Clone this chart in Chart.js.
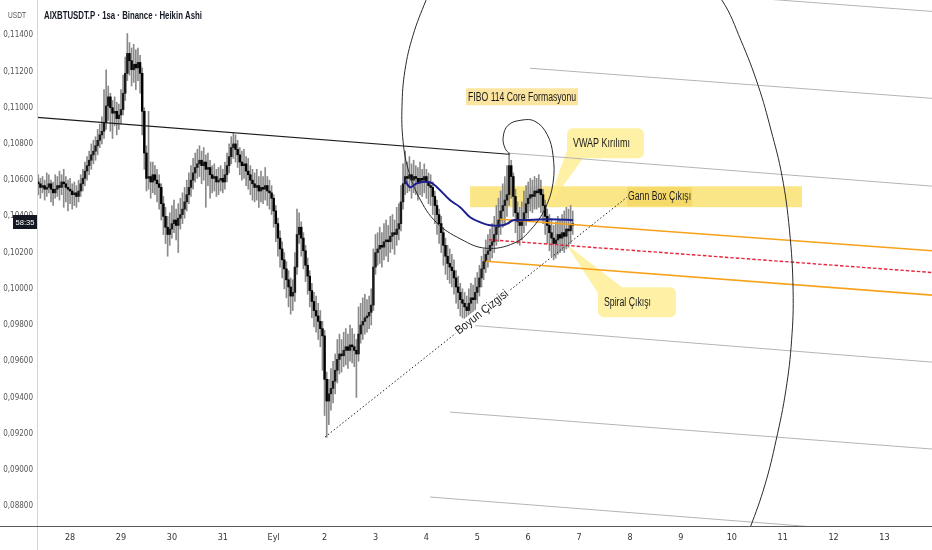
<!DOCTYPE html>
<html>
<head>
<meta charset="utf-8">
<script src="https://cdn.jsdelivr.net/npm/chart.js@4.4.1/dist/chart.umd.min.js"></script>
<style>
  html, body { margin:0; padding:0; background:#fff; }
  canvas { display:block; }
</style>
</head>
<body>
<canvas id="chart" width="932" height="550"></canvas>
<script>
// hours are counted from 28 Aug 00:00, one Heikin Ashi candle per hour
const FIRST_HOUR = -15;

const haOpen = [
  .1059,.1058,.1056,.1057,.1055,.1056,.1058,.1055,.1053,.1055,.1057,.1056,.1059,.1058,.1056,
  .1055,.1054,.1052,.1053,.1051,.1054,.1058,.1061,.1065,.1068,
  .1071,.1074,.1076,.1079,.1082,.1085,.1087,.1092,.1101,.1106,
  .1100,.1097,.1098,.1094,.1096,.1099,.1108,.1119,.1130,.1126,
  .1121,.1124,.1122,.1125,.1119,.1098,.1075,.1061,.1062,.1059,
  .1063,.1060,.1058,.1056,.1047,.1040,.1034,.1030,.1033,.1036,
  .1038,.1035,.1039,.1041,.1044,.1048,.1052,.1056,.1060,.1064,
  .1067,.1069,.1071,.1068,.1070,.1066,.1067,.1063,.1061,.1062,
  .1059,.1060,.1061,.1059,.1063,.1068,.1073,.1078,.1080,.1077,
  .1074,.1070,.1068,.1069,.1065,.1063,.1060,.1058,.1056,.1057,
  .1054,.1056,.1055,.1057,.1054,.1053,.1050,.1043,.1036,.1028,
  .1022,.1016,.1011,.1005,.1001,.0996,.0998,.1012,.1030,.1034,
  .1028,.1021,.1013,.1007,.0999,.0993,.0988,.0985,.0982,.0978,
  .0974,.0950,.0938,.0942,.0945,.0949,.0955,.0961,.0964,.0963,
  .0966,.0968,.0966,.0969,.0968,.0966,.0964,.0975,.0980,.0982,
  .0984,.0985,.0987,.0991,.1012,.1020,.1022,.1024,.1023,.1026,
  .1027,.1026,.1029,.1031,.1030,.1033,.1036,.1048,.1058,.1062,
  .1061,.1063,.1060,.1062,.1061,.1059,.1061,.1060,.1062,.1059,
  .1057,.1056,.1051,.1046,.1041,.1036,.1031,.1024,.1018,.1014,
  .1012,.1010,.1006,.1001,.0998,.0994,.0992,.0990,.0988,.0992,
  .0995,.0994,.0998,.1001,.1006,.1011,.1015,.1019,.1021,.1024,
  .1026,.1030,.1034,.1038,.1043,.1046,.1049,.1052,.1068,.1062,
  .1051,.1042,.1037,.1035,.1038,.1042,.1047,.1050,.1052,.1051,
  .1054,.1053,.1055,.1052,.1046,.1040,.1035,.1031,.1028,.1025,
  .1027,.1030,.1028,.1031,.1029,.1033,.1032,.1035
];
const haClose = [
  .1058,.1056,.1057,.1055,.1056,.1058,.1055,.1053,.1055,.1057,.1056,.1059,.1058,.1056,.1055,
  .1054,.1052,.1053,.1051,.1054,.1058,.1061,.1065,.1068,.1071,
  .1074,.1076,.1079,.1082,.1085,.1087,.1092,.1101,.1106,.1100,
  .1097,.1098,.1094,.1096,.1099,.1108,.1119,.1130,.1126,.1121,
  .1124,.1122,.1125,.1119,.1098,.1075,.1061,.1062,.1059,.1063,
  .1060,.1058,.1056,.1047,.1040,.1034,.1030,.1033,.1036,.1038,
  .1035,.1039,.1041,.1044,.1048,.1052,.1056,.1060,.1064,.1067,
  .1069,.1071,.1068,.1070,.1066,.1067,.1063,.1061,.1062,.1059,
  .1060,.1061,.1059,.1063,.1068,.1073,.1078,.1080,.1077,.1074,
  .1070,.1068,.1069,.1065,.1063,.1060,.1058,.1056,.1057,.1054,
  .1056,.1055,.1057,.1054,.1053,.1050,.1043,.1036,.1028,.1022,
  .1016,.1011,.1005,.1001,.0996,.0998,.1012,.1030,.1034,.1028,
  .1021,.1013,.1007,.0999,.0993,.0988,.0985,.0982,.0978,.0974,
  .0950,.0938,.0942,.0945,.0949,.0955,.0961,.0964,.0963,.0966,
  .0968,.0966,.0969,.0968,.0966,.0964,.0975,.0980,.0982,.0984,
  .0985,.0987,.0991,.1012,.1020,.1022,.1024,.1023,.1026,.1027,
  .1026,.1029,.1031,.1030,.1033,.1036,.1048,.1058,.1062,.1061,
  .1063,.1060,.1062,.1061,.1059,.1061,.1060,.1062,.1059,.1057,
  .1056,.1051,.1046,.1041,.1036,.1031,.1024,.1018,.1014,.1012,
  .1010,.1006,.1001,.0998,.0994,.0992,.0990,.0988,.0992,.0995,
  .0994,.0998,.1001,.1006,.1011,.1015,.1019,.1021,.1024,.1026,
  .1030,.1034,.1038,.1043,.1046,.1049,.1052,.1068,.1062,.1051,
  .1042,.1037,.1035,.1038,.1042,.1047,.1050,.1052,.1051,.1054,
  .1053,.1055,.1052,.1046,.1040,.1035,.1031,.1028,.1025,.1027,
  .1030,.1028,.1031,.1029,.1033,.1032,.1035,.1036
];
const haHigh = [
  .1063,.1061,.1062,.1060,.1064,.1063,.1060,.1059,.1063,.1062,.1065,.1063,.1066,.1062,.1060,
  .1061,.1058,.1059,.1057,.1060,.1063,.1066,.1070,.1073,.1076,
  .1080,.1082,.1084,.1088,.1091,.1095,.1110,.1121,.1112,.1108,
  .1104,.1106,.1103,.1102,.1110,.1118,.1128,.1141,.1136,.1133,
  .1135,.1132,.1133,.1129,.1122,.1100,.1079,.1098,.1070,.1070,
  .1068,.1066,.1063,.1058,.1051,.1045,.1040,.1042,.1046,.1049,
  .1044,.1047,.1050,.1053,.1056,.1060,.1064,.1068,.1072,.1075,
  .1077,.1079,.1076,.1078,.1074,.1075,.1071,.1068,.1069,.1066,
  .1067,.1068,.1066,.1070,.1075,.1080,.1084,.1086,.1085,.1082,
  .1078,.1076,.1077,.1073,.1072,.1068,.1066,.1064,.1066,.1062,
  .1065,.1062,.1067,.1062,.1060,.1057,.1052,.1046,.1039,.1032,
  .1026,.1020,.1015,.1010,.1006,.1005,.1020,.1044,.1042,.1037,
  .1031,.1024,.1017,.1010,.1003,.0998,.0996,.0992,.0988,.0982,
  .0977,.0954,.0950,.0956,.0960,.0964,.0972,.0975,.0972,.0976,
  .0978,.0975,.0980,.0978,.0975,.0972,.0990,.0992,.0995,.0997,
  .0994,.0996,.1000,.1022,.1030,.1031,.1034,.1031,.1036,.1038,
  .1035,.1040,.1041,.1038,.1045,.1047,.1057,.1069,.1076,.1070,
  .1073,.1069,.1071,.1068,.1067,.1070,.1066,.1069,.1066,.1064,
  .1063,.1059,.1054,.1049,.1044,.1040,.1034,.1028,.1024,.1022,
  .1019,.1016,.1010,.1007,.1003,.1000,.0998,.0996,.1000,.1003,
  .1002,.1006,.1009,.1013,.1018,.1022,.1027,.1030,.1033,.1036,
  .1040,.1046,.1050,.1054,.1058,.1062,.1068,.1075,.1071,.1064,
  .1055,.1048,.1045,.1048,.1054,.1057,.1059,.1061,.1060,.1062,
  .1061,.1063,.1060,.1055,.1049,.1044,.1041,.1038,.1035,.1037,
  .1040,.1038,.1041,.1043,.1045,.1044,.1046,.1043
];
const haLow = [
  .1052,.1050,.1053,.1049,.1051,.1053,.1048,.1046,.1050,.1051,.1049,.1052,.1045,.1048,.1043,
  .1047,.1044,.1046,.1045,.1048,.1051,.1054,.1057,.1060,.1063,
  .1066,.1069,.1071,.1074,.1078,.1080,.1083,.1088,.1093,.1087,
  .1083,.1090,.1085,.1088,.1091,.1096,.1104,.1115,.1118,.1112,
  .1114,.1110,.1115,.1108,.1085,.1066,.1054,.1055,.1050,.1053,
  .1052,.1048,.1044,.1038,.1030,.1025,.1018,.1024,.1028,.1031,
  .1027,.1020,.1033,.1036,.1039,.1043,.1047,.1051,.1055,.1059,
  .1061,.1062,.1058,.1060,.1045,.1057,.1050,.1053,.1054,.1051,
  .1052,.1054,.1053,.1055,.1059,.1064,.1069,.1072,.1070,.1067,
  .1063,.1060,.1061,.1057,.1055,.1052,.1049,.1048,.1049,.1045,
  .1048,.1047,.1049,.1046,.1044,.1041,.1034,.1026,.1018,.1012,
  .1006,.1000,.0995,.0990,.0986,.0988,.0993,.1008,.1025,.1018,
  .1011,.1004,.0997,.0990,.0984,.0979,.0976,.0972,.0968,.0955,
  .0930,.0918,.0925,.0933,.0937,.0942,.0948,.0953,.0954,.0957,
  .0958,.0956,.0960,.0959,.0957,.0940,.0960,.0970,.0972,.0975,
  .0976,.0978,.0980,.0988,.1008,.1013,.1014,.1012,.1016,.1018,
  .1015,.1020,.1022,.1019,.1024,.1027,.1032,.1044,.1052,.1053,
  .1054,.1050,.1053,.1052,.1049,.1052,.1051,.1053,.1050,.1047,
  .1046,.1041,.1036,.1030,.1025,.1020,.1013,.1008,.1005,.1003,
  .1001,.0997,.0992,.0989,.0985,.0984,.0982,.0980,.0982,.0986,
  .0985,.0988,.0992,.0996,.1001,.1005,.1009,.1012,.1015,.1017,
  .1020,.1024,.1026,.1030,.1034,.1036,.1040,.1046,.1050,.1040,
  .1031,.1025,.1024,.1027,.1031,.1035,.1039,.1043,.1042,.1044,
  .1044,.1045,.1042,.1036,.1030,.1025,.1021,.1018,.1016,.1017,
  .1019,.1020,.1021,.1020,.1022,.1023,.1025,.1030
];

const dayTicks  = [0,24,48,72,96,120,144,168,192,216,240,264,288,312,336,360,384];
const dayLabels = ["28","29","30","31","Eyl","2","3","4","5","6","7","8","9","10","11","12","13"];
const priceTicks = [0.088,0.090,0.092,0.094,0.096,0.098,0.100,0.102,0.104,0.106,0.108,0.110,0.112,0.114];

// drawings, as [hour, price]
const vwapLine = [[157.9,.10600],[160.3,.10561],[163.6,.10583],[169.7,.10589],[173.0,.10561],[179.2,.10489],
  [183.9,.10451],[188.6,.10395],[193.3,.10368],[198.0,.10351],[204.1,.10351],[206.5,.10362],[208.9,.10379],
  [213.6,.10379],[226.3,.10384],[237.2,.10379]];
const resistanceLine = [[-15.6,.10947],[207.0,.10743]];
const necklineLine = [[120.2,.09181],[262.6,.10506]];
const channelTop = [[202.7,.10384],[406.4,.10210]];
const channelMid = [[197.5,.10271],[406.4,.10090]];
const channelLow = [[196.1,.10152],[406.4,.09965]];
const fanLines = [
  [[273.5,.11648],[406.4,.11532]],
  [[216.9,.11218],[406.4,.11052]],
  [[207.0,.10749],[406.4,.10567]],
  [[188.6,.09799],[406.4,.09595]],
  [[179.2,.09319],[406.4,.09115]],
  [[169.7,.08850],[406.4,.08634]]
];
const spiralPath = [[207.4,.10743],[205.1,.10776],[204.2,.10837],[206.5,.10903],[212.6,.10931],[219.2,.10925],
  [224.9,.10853],[227.7,.10738],[227.7,.10583],[224.0,.10445],[217.4,.10329],[209.3,.10252],[196.1,.10224],
  [184.3,.10274],[172.6,.10368],[164.5,.10506],[159.4,.10660],[157.0,.10815],[156.5,.11008],[157.9,.11207],
  [161.7,.11400],[167.8,.11593],[176.8,.11842],[193.3,.12062],[221.6,.12200],[254.6,.12173],[282.9,.11980],
  [307.4,.11593],[316.3,.11372],[324.4,.11124],[330.5,.10876],[335.7,.10622],[339.2,.10324],[340.9,.09992],
  [340.2,.09716],[337.5,.09440],[332.9,.09164],[327.6,.08916],[320.6,.08679],[314.4,.08502]];

const notes = [
  { text:"Gann Box Çıkışı", from:[188.6,.10567], to:[345.1,.10451], fill:"rgba(250,222,95,0.75)",
    label:[263.1,.10509], labelBg:"rgba(240,205,70,0.45)", width:63 },
  { text:"FIBO 114 Core Formasyonu", from:[186.7,.11107], to:[239.5,.11014], fill:"#fbe5a0", width:108 },
  { text:"VWAP Kırılımı", from:[234.3,.10887], to:[270.6,.10721], fill:"rgba(253,236,130,0.72)", radius:6,
    pointer:[[234.3,.10765],[241.9,.10721],[224.0,.10434]], width:57 },
  { text:"Spiral Çıkışı", from:[248.9,.10009], to:[285.7,.09843], fill:"rgba(253,236,130,0.72)", radius:6,
    pointer:[[248.9,.09976],[260.3,.10009],[233.9,.10246]], width:47 }
];

const NARROW = '"Liberation Sans Narrow", "DejaVu Sans Condensed", "Liberation Sans", sans-serif';
const SANS = '"Liberation Sans", Arial, sans-serif';

const toXY = pts => pts.map(([x, y]) => ({ x, y }));
const hours = haClose.map((_, i) => FIRST_HOUR + i);

function lineSet(pts, color, width, extra = {}) {
  return Object.assign({ type:"line", data: toXY(pts), borderColor: color, borderWidth: width,
    pointRadius: 0, fill: false, tension: 0, order: 2 }, extra);
}

function squeezeText(ctx, str, x, y, font, color, width, align = "left") {
  ctx.save();
  ctx.font = font;
  ctx.fillStyle = color;
  ctx.textBaseline = "middle";
  const w = ctx.measureText(str).width;
  const s = width / w;
  ctx.translate(x, y);
  ctx.scale(s, 1);
  ctx.textAlign = align;
  ctx.fillText(str, 0, 0);
  ctx.restore();
}

function roundRect(ctx, x, y, w, h, r) {
  ctx.moveTo(x + r, y);
  ctx.arcTo(x + w, y, x + w, y + h, r);
  ctx.arcTo(x + w, y + h, x, y + h, r);
  ctx.arcTo(x, y + h, x, y, r);
  ctx.arcTo(x, y, x + w, y, r);
  ctx.closePath();
}

const drawings = {
  id: "drawings",
  beforeDatasetsDraw(chart) {
    const { ctx, chartArea: a, scales: { x, y } } = chart;
    const X = v => x.getPixelForValue(v), Y = v => y.getPixelForValue(v);
    ctx.save();
    ctx.beginPath(); ctx.rect(a.left, a.top, a.right - a.left, a.bottom - a.top); ctx.clip();
    for (const n of notes) {
      const x0 = X(n.from[0]), y0 = Y(n.from[1]), x1 = X(n.to[0]), y1 = Y(n.to[1]);
      ctx.beginPath();
      roundRect(ctx, x0, y0, x1 - x0, y1 - y0, n.radius || 0);
      if (n.pointer) {
        let p = n.pointer.map(([h, v]) => [X(h), Y(v)]);
        const s = (p[1][0] - p[0][0]) * (p[2][1] - p[0][1]) - (p[2][0] - p[0][0]) * (p[1][1] - p[0][1]);
        if (s < 0) p = p.reverse();
        ctx.moveTo(p[0][0], p[0][1]); ctx.lineTo(p[1][0], p[1][1]); ctx.lineTo(p[2][0], p[2][1]); ctx.closePath();
      }
      ctx.fillStyle = n.fill;
      ctx.fill("nonzero");
      const font = "12px " + SANS;
      if (n.label) {
        const lx = X(n.label[0]), ly = Y(n.label[1]);
        ctx.fillStyle = n.labelBg;
        ctx.fillRect(lx - 1, y0 + 1, n.width + 2, y1 - y0 - 2);
        squeezeText(ctx, n.text, lx, ly, font, "#1a1a1a", n.width);
      } else if (n.radius) {
        squeezeText(ctx, n.text, x0 + 6, (y0 + y1) / 2, font, "#1a1a1a", n.width);
      } else {
        squeezeText(ctx, n.text, (x0 + x1) / 2, (y0 + y1) / 2 + 0.5, font, "#1a1a1a", n.width, "center");
      }
    }
    ctx.restore();
  },
  afterDatasetsDraw(chart) {
    const { ctx, scales: { x, y } } = chart;
    const p1 = [x.getPixelForValue(necklineLine[0][0]), y.getPixelForValue(necklineLine[0][1])];
    const p2 = [x.getPixelForValue(necklineLine[1][0]), y.getPixelForValue(necklineLine[1][1])];
    const t = 0.52;
    const cx = p1[0] + (p2[0] - p1[0]) * t, cy = p1[1] + (p2[1] - p1[1]) * t;
    const ang = Math.atan2(p2[1] - p1[1], p2[0] - p1[0]);
    ctx.save();
    ctx.translate(cx, cy);
    ctx.rotate(ang);
    ctx.fillStyle = "#fff";
    ctx.fillRect(-34, -6, 68, 12);
    squeezeText(ctx, "Boyun Çizgisi", 0, 0, "12px " + SANS, "#1a1a1a", 64, "center");
    ctx.restore();
  },
  afterDraw(chart) {
    const { ctx, chartArea: a } = chart;
    ctx.save();
    ctx.strokeStyle = "#d4d4d4"; ctx.lineWidth = 1;
    ctx.beginPath(); ctx.moveTo(a.left + 0.5, 0); ctx.lineTo(a.left + 0.5, chart.height); ctx.stroke();
    ctx.strokeStyle = "#5a5a5a";
    ctx.beginPath(); ctx.moveTo(0, a.bottom + 0.5); ctx.lineTo(chart.width, a.bottom + 0.5); ctx.stroke();
    squeezeText(ctx, "USDT", 8, 16, "9px " + SANS, "#555", 18);
    squeezeText(ctx, "AIXBTUSDT.P · 1sa · Binance · Heikin Ashi", 44, 16, "bold 10.5px " + SANS, "#131722", 158);
    ctx.fillStyle = "#131722";
    ctx.fillRect(13, 215, 24, 14);
    squeezeText(ctx, "58:35", 25, 222.5, "8px " + SANS, "#fff", 19, "center");
    ctx.restore();
  }
};

new Chart(document.getElementById("chart"), {
  type: "bar",
  data: {
    datasets: [
      lineSet(vwapLine, "#1d1f8f", 2, { tension: 0.35, order: 1 }),
      lineSet(spiralPath, "#2a2a2a", 1, { tension: 0.4 }),
      lineSet(resistanceLine, "#1a1a1a", 1.2),
      lineSet(necklineLine, "#222", 1, { borderDash: [1.5, 2.2] }),
      lineSet(channelTop, "#f7a21b", 1.6),
      lineSet(channelMid, "#e8243c", 1.4, { borderDash: [3.5, 2] }),
      lineSet(channelLow, "#f7a21b", 1.6),
      ...fanLines.map(f => lineSet(f, "#b4b4b4", 1, { order: 3 })),
      { type: "bar", label: "body", order: 10, grouped: false, barThickness: 1.8, minBarLength: 1,
        data: hours.map((h, i) => ({ x: h, y: [haOpen[i], haClose[i]] })),
        backgroundColor: c => (c.dataIndex !== undefined && haClose[c.dataIndex] < haOpen[c.dataIndex]) ? "#000" : "#1a1a1a" },
      { type: "bar", label: "wick", order: 11, grouped: false, barThickness: 1,
        data: hours.map((h, i) => ({ x: h, y: [haLow[i], haHigh[i]] })),
        backgroundColor: "#8a8a8a" }
    ]
  },
  options: {
    responsive: false,
    animation: false,
    events: [],
    layout: { padding: 0 },
    elements: { line: { capBezierPoints: false } },
    plugins: { legend: { display: false }, tooltip: { enabled: false } },
    scales: {
      x: {
        type: "linear", min: -15.6, max: 406.4, offset: false,
        grid: { display: false, drawTicks: false }, border: { display: false },
        afterBuildTicks: s => { s.ticks = dayTicks.map(v => ({ value: v })); },
        afterFit: s => { s.height = 24; s.paddingLeft = 0; s.paddingRight = 0; },
        ticks: { autoSkip: false, maxRotation: 0, padding: 6, color: "#333",
          font: { family: NARROW, size: 9 },
          callback: v => dayLabels[dayTicks.indexOf(v)] ?? "" }
      },
      y: {
        type: "linear", position: "left", min: 0.0869, max: 0.11595,
        grid: { display: false, drawTicks: false }, border: { display: false },
        afterBuildTicks: s => { s.ticks = priceTicks.map(v => ({ value: v })); },
        afterFit: s => { s.width = 37; s.paddingTop = 0; s.paddingBottom = 0; },
        ticks: { autoSkip: false, padding: 4, color: "#555",
          font: { family: NARROW, size: 8 },
          callback: v => v.toFixed(5).replace(".", ",") }
      }
    }
  },
  plugins: [drawings]
});
</script>
</body>
</html>
